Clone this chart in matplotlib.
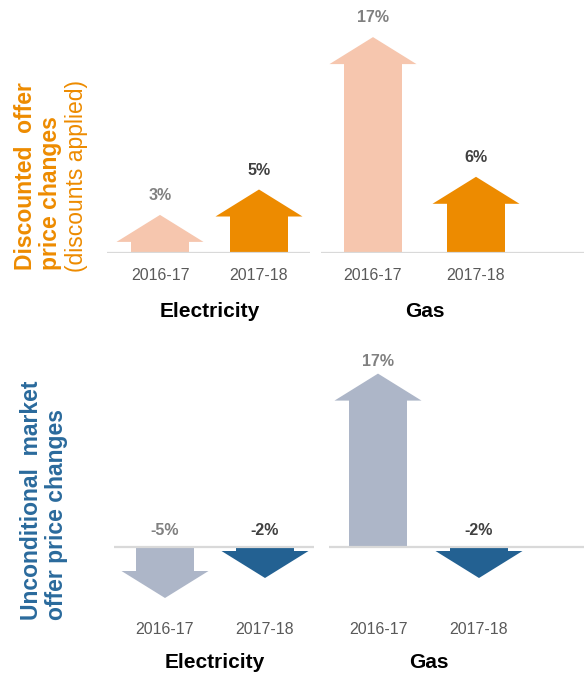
import matplotlib
matplotlib.use("Agg")
import matplotlib.pyplot as plt
from matplotlib.patches import FancyArrow

plt.rcParams["font.family"] = ["Liberation Sans", "DejaVu Sans"]

# ── Data ────────────────────────────────────────────────────────────────────
years = ["2016-17", "2017-18"]
fuels = ["Electricity", "Gas"]

disc_elec = [3, 5]       # discounted offer price change (%)
disc_gas = [17, 6]
uncond_elec = [-5, -2]   # unconditional market offer price change (%)
uncond_gas = [17, -2]

# ── Style ───────────────────────────────────────────────────────────────────
W, H, DPI = 584, 673, 100
ORANGE = "#ED8B00"
ORANGE_LIGHT = "#F6C6AE"
BLUE = "#236192"
BLUE_LIGHT = "#ADB6C8"
BLUE_TEXT = "#2A6A9C"
BASE_GREY = "#D9D9D9"
TICK_GREY = "#595959"
VAL_COLORS = ["#808080", "#404040"]


def px_rect(left, top, right, bottom):
    return [left / W, 1 - bottom / H, (right - left) / W, (bottom - top) / H]


def draw_panel(fig, rect_px, centers_px, ylim, values, colors, fuel,
               tick_pad, title_off, pos_lab_off, neg_lab_off):
    left, top, right, bottom = rect_px
    ax = fig.add_axes(px_rect(*rect_px))
    c0, c1 = centers_px
    unit = c1 - c0                                  # px per category step
    ax.set_xlim((left - c0) / unit, (right - c0) / unit)
    ax.set_ylim(*ylim)
    px_per_y = (bottom - top) / (ylim[1] - ylim[0])

    shaft_w = 58 / unit
    head_w = 87 / unit
    head_len = 27 / px_per_y
    min_len = head_len + 4 / px_per_y

    for i, (v, col) in enumerate(zip(values, colors)):
        length = max(abs(v), min_len)
        sign = 1 if v >= 0 else -1
        ax.add_patch(FancyArrow(i, 0, 0, sign * length, width=shaft_w,
                                head_width=head_w, head_length=head_len,
                                length_includes_head=True, color=col,
                                lw=0, zorder=2))
        if v >= 0:
            ax.annotate(f"{v}%", xy=(i, length), xytext=(0, pos_lab_off),
                        textcoords="offset points", ha="center", va="center",
                        fontsize=11.5, fontweight="bold", color=VAL_COLORS[i])
        else:
            ax.annotate(f"{v}%", xy=(i, 0), xytext=(0, neg_lab_off),
                        textcoords="offset points", ha="center", va="center",
                        fontsize=11.5, fontweight="bold", color=VAL_COLORS[i])

    ax.axhline(0, color=BASE_GREY, lw=1.6, zorder=3)

    ax.set_xticks(range(len(years)))
    ax.set_xticklabels(years, fontsize=11.5, color=TICK_GREY)
    ax.tick_params(axis="x", length=0, pad=tick_pad)
    ax.set_yticks([])
    for s in ax.spines.values():
        s.set_visible(False)
    ax.patch.set_alpha(0)

    ax.annotate(fuel, xy=(0.5, 0), xycoords=("data", "axes fraction"),
                xytext=(0, -title_off), textcoords="offset points",
                ha="center", va="center", fontsize=15, fontweight="bold",
                color="black", annotation_clip=False)
    return ax


fig = plt.figure(figsize=(W / DPI, H / DPI), dpi=DPI)

# top row: discounted offers (baseline at y=253 px)
top_ylim = (0, 253 / 12.7)
draw_panel(fig, (107, 0, 310, 253), (160, 259), top_ylim, disc_elec,
           [ORANGE_LIGHT, ORANGE], fuels[0], 11, 42, 14, 12)
draw_panel(fig, (321, 0, 584, 253), (373, 476), top_ylim, disc_gas,
           [ORANGE_LIGHT, ORANGE], fuels[1], 11, 42, 14, 12)

# bottom row: unconditional offers (baseline at y=547 px)
bot_ylim = (-(610 - 547) / 10.2, (547 - 340) / 10.2)
draw_panel(fig, (114, 340, 314, 610), (165, 265), bot_ylim, uncond_elec,
           [BLUE_LIGHT, BLUE], fuels[0], 9, 38, 9, 12)
draw_panel(fig, (329, 340, 584, 610), (378, 479), bot_ylim, uncond_gas,
           [BLUE_LIGHT, BLUE], fuels[1], 9, 38, 9, 12)

# row labels
def row_label(x, y, text, color, weight, size):
    fig.text(x / W, 1 - y / H, text, rotation=90, rotation_mode="anchor",
             ha="left", va="center", color=color, fontweight=weight,
             fontsize=size)

row_label(25, 270, "Discounted  offer", ORANGE, "bold", 16.5)
row_label(51, 270, "price changes", ORANGE, "bold", 16.5)
row_label(77, 272, "(discounts applied)", ORANGE, "normal", 16.5)
row_label(31, 620, "Unconditional  market", BLUE_TEXT, "bold", 16.5)
row_label(57, 620, "offer price changes", BLUE_TEXT, "bold", 16.5)

fig.savefig("out.png", dpi=DPI)
